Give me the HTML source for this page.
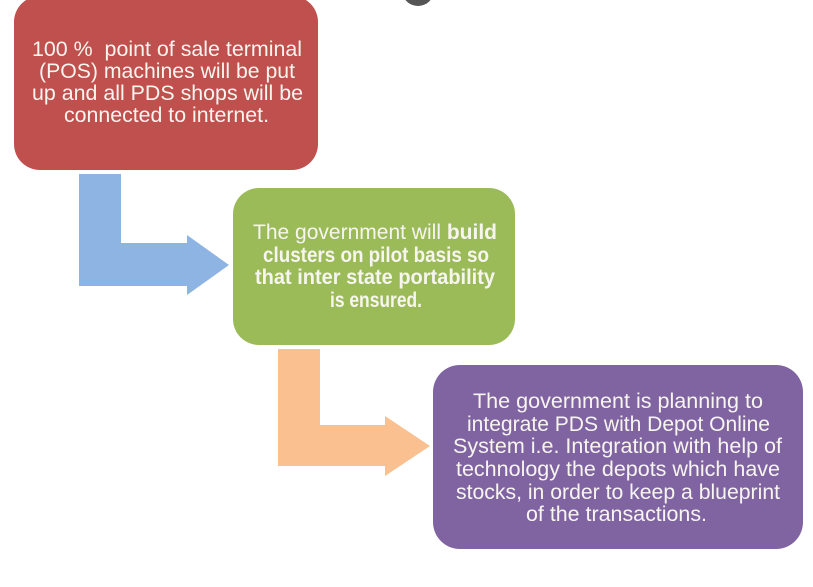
<!DOCTYPE html>
<html>
<head>
<meta charset="utf-8">
<style>
  html, body { margin: 0; padding: 0; background: #ffffff; }
  body { width: 813px; height: 587px; overflow: hidden; }
  svg { display: block; }
  text { font-family: "Liberation Sans", "DejaVu Sans", sans-serif; font-size: 21px; fill: #f7f5ef; white-space: pre; }
  .b { font-weight: bold; }
</style>
</head>
<body>
<svg width="813" height="587" viewBox="0 0 813 587" xmlns="http://www.w3.org/2000/svg">
  <rect x="0" y="0" width="813" height="587" fill="#ffffff"/>

  <!-- dark circle at top -->
  <circle cx="418" cy="-10" r="16" fill="#555555"/>

  <!-- Red box -->
  <rect x="14" y="-4" width="304" height="174" rx="26" ry="26" fill="#c0504d"/>
  <text x="167" y="56" text-anchor="middle" textLength="270" lengthAdjust="spacingAndGlyphs">100 %  point of sale terminal</text>
  <text x="167" y="78" text-anchor="middle" textLength="256" lengthAdjust="spacingAndGlyphs">(POS) machines will be put</text>
  <text x="167.5" y="100" text-anchor="middle" textLength="271" lengthAdjust="spacingAndGlyphs">up and all PDS shops will be</text>
  <text x="166.5" y="122" text-anchor="middle" textLength="205" lengthAdjust="spacingAndGlyphs">connected to internet.</text>

  <!-- Blue bent arrow -->
  <polygon points="79,174 121,174 121,243 187,243 187,235 229,265 187,295 187,286 79,286" fill="#8db4e3"/>

  <!-- Green box -->
  <rect x="233" y="188" width="282" height="157" rx="26" ry="26" fill="#9bbb59"/>
  <text x="375" y="239" text-anchor="middle" textLength="244" lengthAdjust="spacingAndGlyphs">The government will <tspan class="b">build</tspan></text>
  <text x="376" y="262" text-anchor="middle" class="b" textLength="226" lengthAdjust="spacingAndGlyphs">clusters on pilot basis so</text>
  <text x="375" y="284" text-anchor="middle" class="b" textLength="240" lengthAdjust="spacingAndGlyphs">that inter state portability</text>
  <text x="376" y="307" text-anchor="middle" class="b" textLength="92" lengthAdjust="spacingAndGlyphs">is ensured.</text>

  <!-- Orange bent arrow -->
  <polygon points="278,349 320,349 320,425 385,425 385,416 430,446 385,476 385,466 278,466" fill="#fac090"/>

  <!-- Purple box -->
  <rect x="433" y="365" width="370" height="184" rx="27" ry="27" fill="#8064a2"/>
  <text x="618" y="408" text-anchor="middle" textLength="290" lengthAdjust="spacingAndGlyphs">The government is planning to</text>
  <text x="618.5" y="431" text-anchor="middle" textLength="303" lengthAdjust="spacingAndGlyphs">integrate PDS with Depot Online</text>
  <text x="617.5" y="453" text-anchor="middle" textLength="329" lengthAdjust="spacingAndGlyphs">System i.e. Integration with help of</text>
  <text x="618" y="476" text-anchor="middle" textLength="324" lengthAdjust="spacingAndGlyphs">technology the depots which have</text>
  <text x="618" y="499" text-anchor="middle" textLength="324" lengthAdjust="spacingAndGlyphs">stocks, in order to keep a blueprint</text>
  <text x="616.5" y="521" text-anchor="middle" textLength="181" lengthAdjust="spacingAndGlyphs">of the transactions.</text>
</svg>
</body>
</html>
